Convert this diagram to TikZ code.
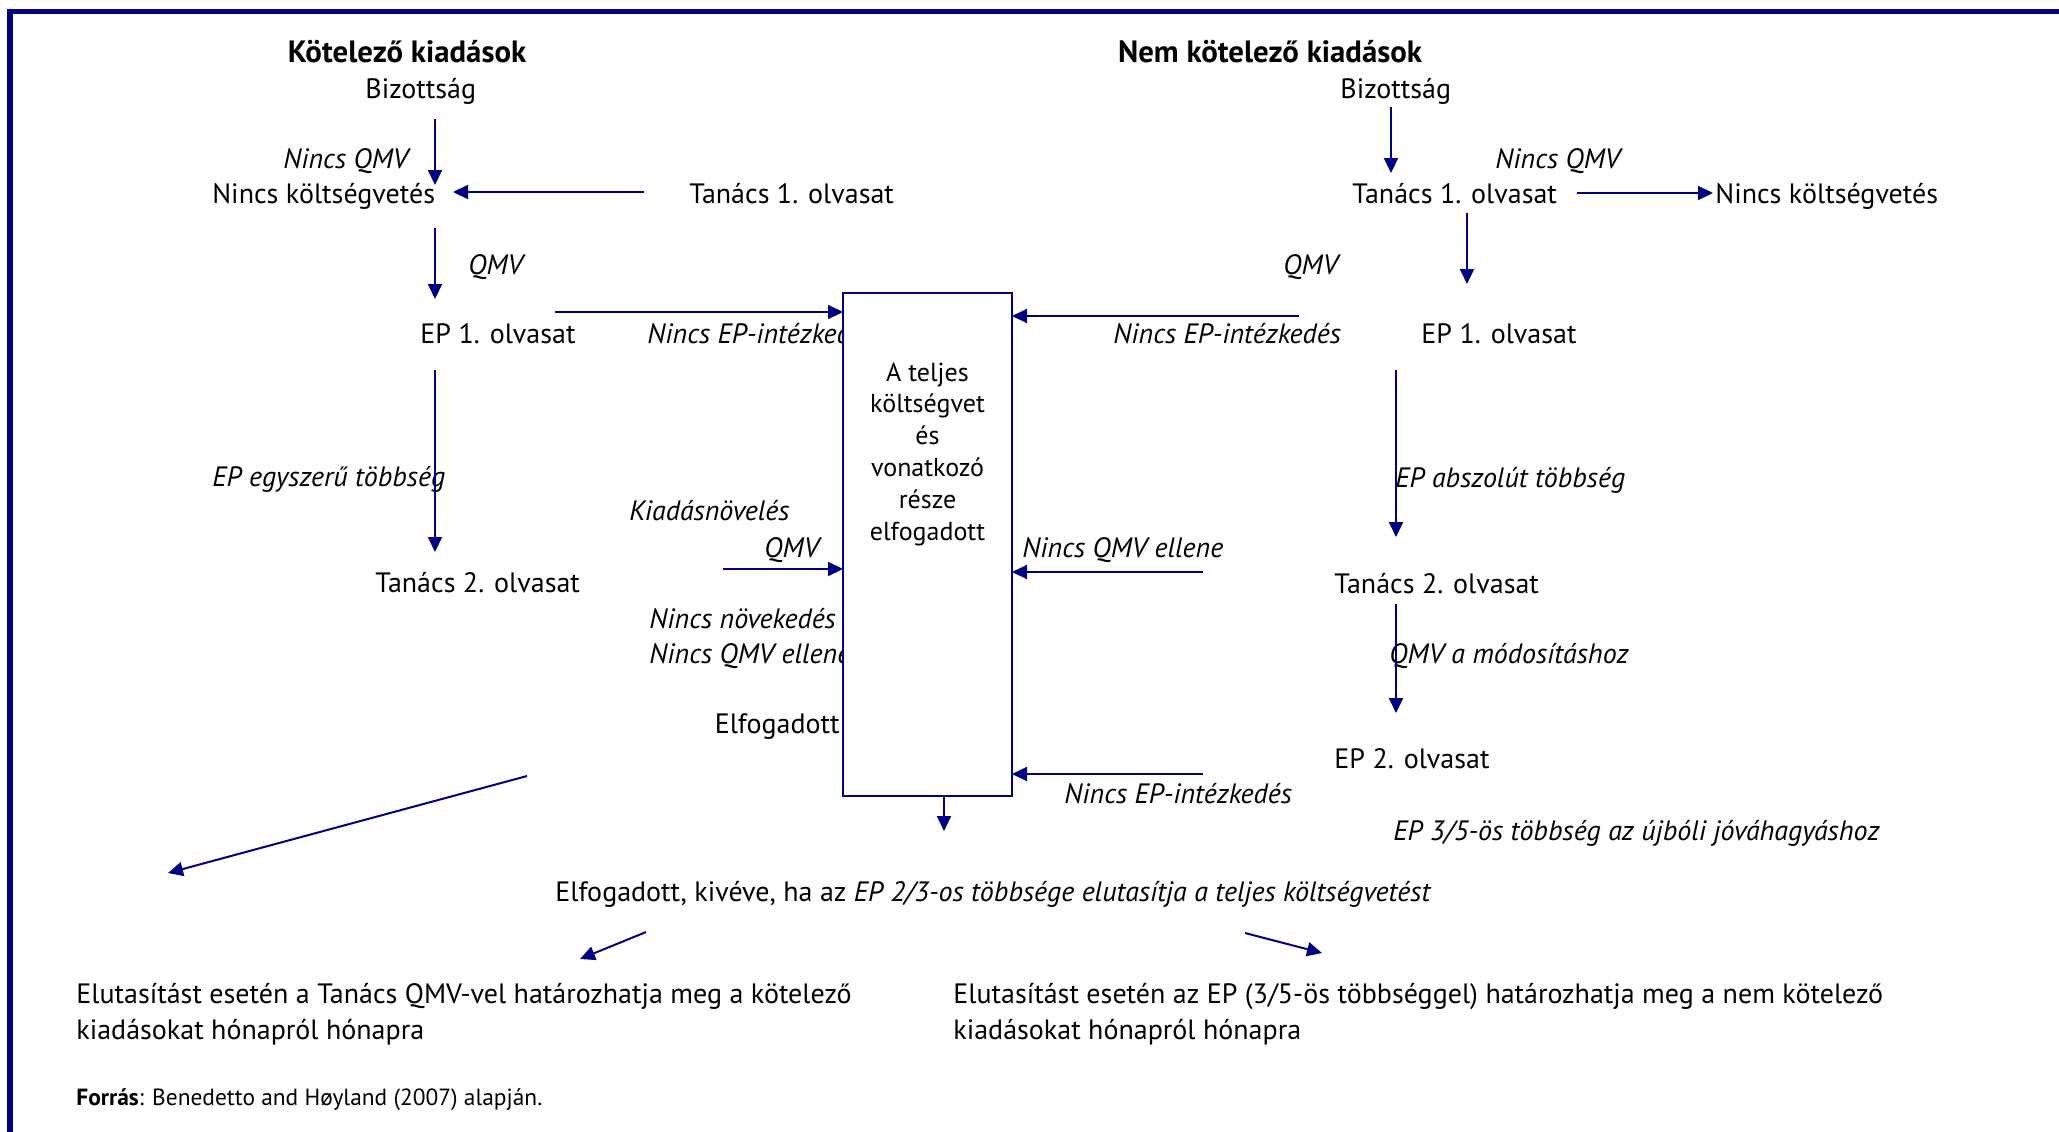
\documentclass[tikz,border=0pt]{standalone}
\usepackage{fontspec}
\setmainfont{PT Sans}
\usetikzlibrary{arrows.meta}
\definecolor{navy}{RGB}{0,0,128}
\tikzset{
  lbl/.style={anchor=base west, inner sep=0pt, font=\fontsize{14}{17}\selectfont},
  ilbl/.style={anchor=base west, inner sep=0pt, font=\fontsize{14}{17}\selectfont\itshape},
  hdr/.style={anchor=base, inner sep=0pt, font=\fontsize{15.4}{18}\selectfont\bfseries},
  btxt/.style={anchor=base, inner sep=0pt, font=\fontsize{13}{16}\selectfont},
  arr/.style={draw=navy, line width=1pt, -{Triangle[length=7.5pt,width=7pt]}},
}
\begin{document}
\begin{tikzpicture}[x=0.5pt,y=-0.5pt]
\useasboundingbox (0,0) rectangle (2059,1131);
% frame
\draw[navy, line width=2.6pt] (10,1140) -- (10,11.5) -- (2070,11.5);

% ---------- left column ----------
\node[hdr] (hL) at (407,62) {Kötelező kiadások};
\node[lbl] (bizL) at (365,98) {Bizottság};
\node[ilbl] (nqL) at (283,168) {Nincs QMV};
\node[lbl] (nkL) at (212,203) {Nincs költségvetés};
\node[lbl] (t1L) at (689,203) {Tanács 1. olvasat};
\node[ilbl] (qmvL) at (468,274) {QMV};
\node[lbl] (ep1L) at (420,343) {EP 1. olvasat};
\node[ilbl] (neL) at (647,343) {Nincs EP-intézkedés};
\node[ilbl] (egyL) at (212,486) {EP egyszerű többség};
\node[ilbl] (kiL) at (629,520) {Kiadásnövelés};
\node[ilbl] (qmv2L) at (764,557) {QMV};
\node[lbl] (t2L) at (375,592) {Tanács 2. olvasat};
\node[ilbl] (nnL) at (649,628) {Nincs növekedés};
\node[ilbl] (nqeL) at (649,663) {Nincs QMV ellene};
\node[lbl, anchor=base east] (elfL) at (840,733) {Elfogadott};

% ---------- right column ----------
\node[hdr] (hR) at (1270,62) {Nem kötelező kiadások};
\node[lbl] (bizR) at (1340,98) {Bizottság};
\node[ilbl] (nqR) at (1495,168) {Nincs QMV};
\node[lbl] (t1R) at (1352,203) {Tanács 1. olvasat};
\node[lbl] (nkR) at (1715,203) {Nincs költségvetés};
\node[ilbl] (qmvR) at (1283,274) {QMV};
\node[ilbl] (neR) at (1113,343) {Nincs EP-intézkedés};
\node[lbl] (ep1R) at (1421,343) {EP 1. olvasat};
\node[ilbl] (absR) at (1395,487) {EP abszolút többség};
\node[ilbl] (nqeR) at (1022,557) {Nincs QMV ellene};
\node[lbl] (t2R) at (1334,593) {Tanács 2. olvasat};
\node[ilbl] (modR) at (1389,663) {QMV a módosításhoz};
\node[lbl] (ep2R) at (1334,768) {EP 2. olvasat};
\node[ilbl] (ne2R) at (1064,803) {Nincs EP-intézkedés};
\node[ilbl] (ep35R) at (1393,840) {EP 3/5-ös többség az újbóli jóváhagyáshoz};

% ---------- central box ----------
\node[draw=navy, line width=1.4pt, fill=white, minimum width=169*0.5pt, minimum height=503*0.5pt, inner sep=0pt] (box) at (927.5,544.5) {};
\node[btxt] (b1) at (927.5,381) {A teljes};
\node[btxt] (b2) at (927.5,412) {költségvet};
\node[btxt] (b3) at (927.5,444) {és};
\node[btxt] (b4) at (927.5,476) {vonatkozó};
\node[btxt] (b5) at (927.5,508) {része};
\node[btxt] (b6) at (927.5,540) {elfogadott};

% ---------- bottom ----------
\node[lbl] (elfB) at (555,901) {Elfogadott, kivéve, ha az \textit{EP 2/3-os többsége elutasítja a teljes költségvetést}};
\node[lbl, align=left, font=\fontsize{14}{18}\selectfont] (rejL) at (76,1039) {Elutasítást esetén a Tanács QMV-vel határozhatja meg a kötelező\\kiadásokat hónapról hónapra};
\node[lbl, align=left, font=\fontsize{14}{18}\selectfont] (rejR) at (953,1039) {Elutasítást esetén az EP (3/5-ös többséggel) határozhatja meg a nem kötelező\\kiadásokat hónapról hónapra};
\node[lbl, font=\fontsize{11.7}{14}\selectfont] (src) at (76,1105) {\textbf{Forrás}: Benedetto and Høyland (2007) alapján.};

% ---------- connector end points ----------
\coordinate (a1s) at (435,119);  \coordinate (a1e) at (435,185);
\coordinate (a2s) at (644,192);  \coordinate (a2e) at (453,192);
\coordinate (a3s) at (435,228);  \coordinate (a3e) at (435,299);
\coordinate (a4s) at (555,312);  \coordinate (a4e) at (843,312);
\coordinate (a5s) at (435,370);  \coordinate (a5e) at (435,552);
\coordinate (a6s) at (723,569);  \coordinate (a6e) at (843,569);
\coordinate (a7s) at (527,776);  \coordinate (a7e) at (168,873);
\coordinate (a8s) at (944,796);  \coordinate (a8e) at (944,831);
\coordinate (r1s) at (1391,107); \coordinate (r1e) at (1391,173);
\coordinate (r2s) at (1577,193); \coordinate (r2e) at (1713,193);
\coordinate (r3s) at (1467,213); \coordinate (r3e) at (1467,284);
\coordinate (r4s) at (1299,316); \coordinate (r4e) at (1012,316);
\coordinate (r5s) at (1396,370); \coordinate (r5e) at (1396,537);
\coordinate (r6s) at (1203,572); \coordinate (r6e) at (1012,572);
\coordinate (r7s) at (1396,604); \coordinate (r7e) at (1396,713);
\coordinate (r8s) at (1203,774); \coordinate (r8e) at (1012,774);
\coordinate (b1s) at (646,932);  \coordinate (b1e) at (580,959);
\coordinate (b2s) at (1245,933); \coordinate (b2e) at (1322,953);

\foreach \s/\e in {a1s/a1e,a2s/a2e,a3s/a3e,a4s/a4e,a5s/a5e,a6s/a6e,a7s/a7e,a8s/a8e,
                   r1s/r1e,r2s/r2e,r3s/r3e,r4s/r4e,r5s/r5e,r6s/r6e,r7s/r7e,r8s/r8e,
                   b1s/b1e,b2s/b2e}
  \draw[arr] (\s) -- (\e);
\end{tikzpicture}
\end{document}
